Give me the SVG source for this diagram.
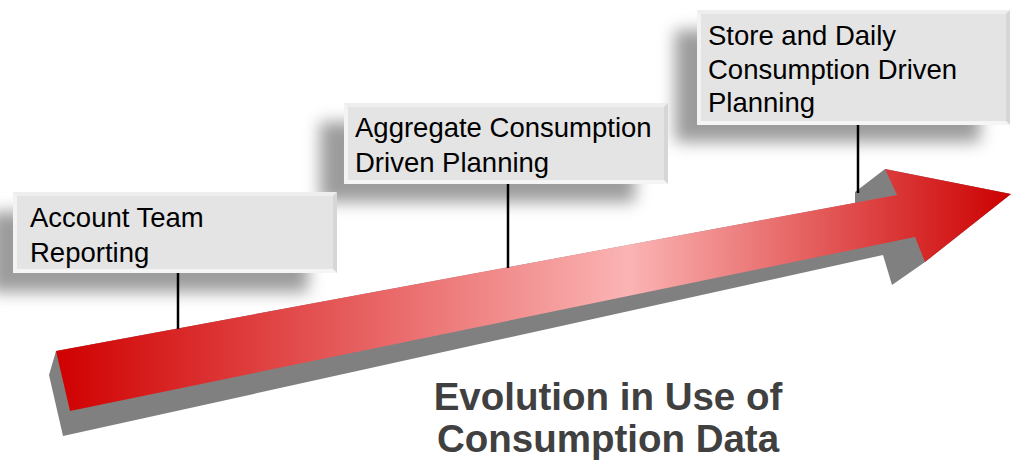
<svg xmlns="http://www.w3.org/2000/svg" width="1011" height="464" viewBox="0 0 1011 464">
<defs>
<linearGradient id="arrowGrad" gradientUnits="userSpaceOnUse" x1="56" y1="0" x2="1011" y2="0">
<stop offset="0" stop-color="#d00000"/>
<stop offset="0.6" stop-color="#fbb4b4"/>
<stop offset="1" stop-color="#cc0000"/>
</linearGradient>
<filter id="blur" x="-30%" y="-60%" width="160%" height="220%">
<feGaussianBlur stdDeviation="8"/>
</filter>
<style>
.shadow{fill:#7a7a7a;opacity:0.75;filter:url(#blur)}
.box{fill:#e4e4e4}
.bl{fill:#f3f3f3}
.bt{fill:#eeeeee}
.br{fill:#d6d6d6}
.bb{fill:#f5f5f5}
.lbl{font-family:"Liberation Sans",Arial,sans-serif;font-size:27.5px;fill:#000}
.title{font-family:"Liberation Sans",Arial,sans-serif;font-size:38.5px;font-weight:bold;fill:#404040;text-anchor:middle}
.conn{stroke:#000;stroke-width:2.5;fill:none}
</style>
</defs>

<g id="shadows">
<rect class="shadow" x="675" y="30" width="305" height="112"/>
<rect class="shadow" x="320" y="122" width="315" height="80"/>
<rect class="shadow" x="-10" y="212" width="318" height="80"/>
</g>

<g id="arrow">
<polygon fill="#808080" points="56,351 49,375 63,436 883,255 892,285 925,262 1011,194 885,169 855,192 855,203"/>
<polygon fill="url(#arrowGrad)" points="56,351 70,411 915,237 925,262 1011,194 885,169 897,195"/>
</g>

<g id="connectors">
<line class="conn" x1="178" y1="273" x2="178" y2="329"/>
<line class="conn" x1="508" y1="184" x2="508" y2="268"/>
<line class="conn" x1="858" y1="125" x2="858" y2="193"/>
</g>

<g id="box3">
<rect class="box" x="697" y="10" width="313" height="115"/>
<polygon class="bl" points="697,10 701,14 701,121 697,125"/>
<polygon class="bt" points="697,10 1010,10 1006,14 701,14"/>
<polygon class="br" points="1010,10 1010,125 1006,121 1006,14"/>
<polygon class="bb" points="697,125 701,121 1006,121 1010,125"/>
<text class="lbl" x="708" y="45">Store and Daily</text>
<text class="lbl" x="708" y="79">Consumption Driven</text>
<text class="lbl" x="708" y="112">Planning</text>
</g>

<g id="box2">
<rect class="box" x="344" y="103" width="324" height="81"/>
<polygon class="bl" points="344,103 348,107 348,180 344,184"/>
<polygon class="bt" points="344,103 668,103 664,107 348,107"/>
<polygon class="br" points="668,103 668,184 664,180 664,107"/>
<polygon class="bb" points="344,184 348,180 664,180 668,184"/>
<text class="lbl" x="355" y="137">Aggregate Consumption</text>
<text class="lbl" x="355" y="172">Driven Planning</text>
</g>

<g id="box1">
<rect class="box" x="13" y="192" width="324" height="81"/>
<polygon class="bl" points="13,192 17,196 17,269 13,273"/>
<polygon class="bt" points="13,192 337,192 333,196 17,196"/>
<polygon class="br" points="337,192 337,273 333,269 333,196"/>
<polygon class="bb" points="13,273 17,269 333,269 337,273"/>
<text class="lbl" x="30" y="227">Account Team</text>
<text class="lbl" x="30" y="262">Reporting</text>
</g>

<g id="title">
<text class="title" x="608" y="410">Evolution in Use of</text>
<text class="title" x="608" y="452">Consumption Data</text>
</g>
</svg>
